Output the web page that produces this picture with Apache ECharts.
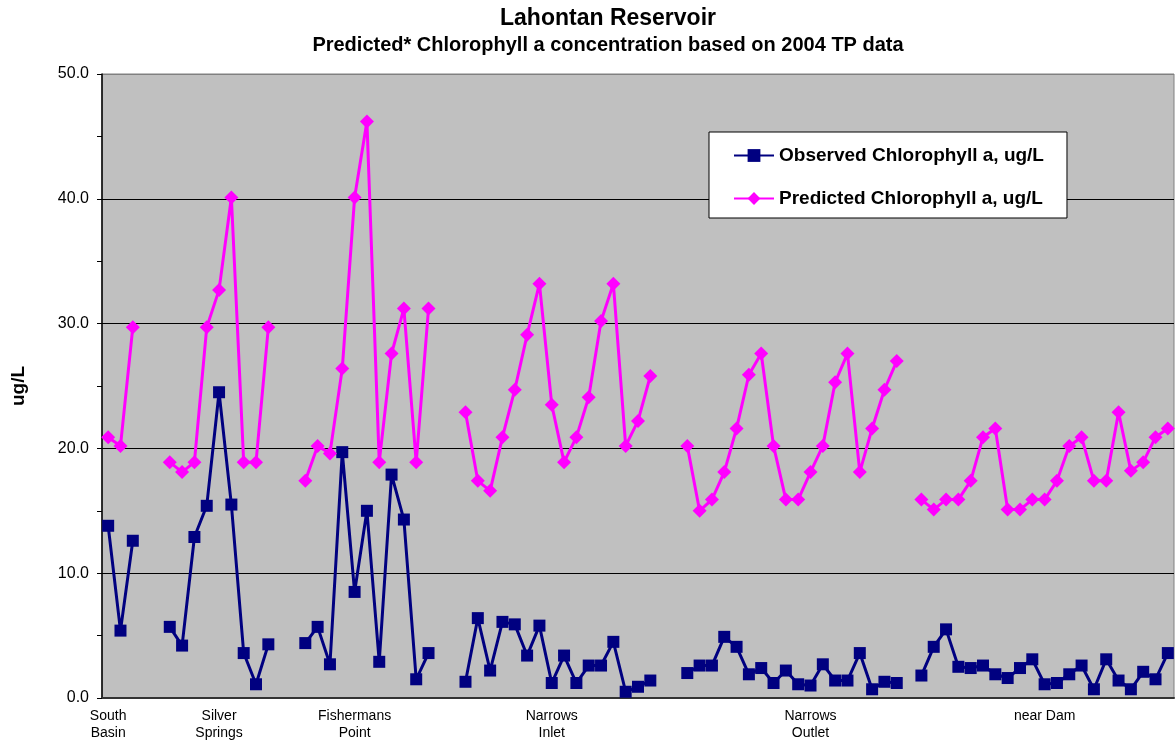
<!DOCTYPE html>
<html>
<head>
<meta charset="utf-8">
<title>Lahontan Reservoir</title>
<script src="https://cdn.jsdelivr.net/npm/echarts@6.0.0/dist/echarts.min.js"></script>
<style>
  html, body { margin: 0; padding: 0; background: #fff; }
  #chart { width: 1175px; height: 742px; }
</style>
</head>
<body>
<div id="chart"></div>
<script>
// sites along the reservoir, left to right
const siteNames = ['South\nBasin', 'Silver\nSprings', 'Fishermans\nPoint', 'Narrows\nInlet', 'Narrows\nOutlet', 'near Dam']
// empty slots after each site, and which sample carries the site label
const gapAfter = [2, 2, 2, 2, 1]
const labelAt = [0, 4, 4, 7, 10, 10]

const southObs = [13.8, 5.4, 12.6]
const southPred = [20.9, 20.2, 29.7]
const silverObs = [5.7, 4.2, 12.9, 15.4, 24.5, 15.5, 3.6, 1.1, 4.3]
const silverPred = [18.9, 18.1, 18.9, 29.7, 32.7, 40.1, 18.9, 18.9, 29.7]
const fishObs = [4.4, 5.7, 2.7, 19.7, 8.5, 15.0, 2.9, 17.9, 14.3, 1.5, 3.6]
const fishPred = [17.4, 20.2, 19.6, 26.4, 40.1, 46.2, 18.9, 27.6, 31.2, 18.9, 31.2]
const inletObs = [1.3, 6.4, 2.2, 6.1, 5.9, 3.4, 5.8, 1.2, 3.4, 1.2, 2.6, 2.6, 4.5, 0.5, 0.9, 1.4]
const inletPred = [22.9, 17.4, 16.6, 20.9, 24.7, 29.1, 33.2, 23.5, 18.9, 20.9, 24.1, 30.2, 33.2, 20.2, 22.2, 25.8]
const outletObs = [2.0, 2.6, 2.6, 4.9, 4.1, 1.9, 2.4, 1.2, 2.2, 1.1, 1.0, 2.7, 1.4, 1.4, 3.6, 0.7, 1.3, 1.2]
const outletPred = [20.2, 15.0, 15.9, 18.1, 21.6, 25.9, 27.6, 20.2, 15.9, 15.9, 18.1, 20.2, 25.3, 27.6, 18.1, 21.6, 24.7, 27.0]
const damObs = [1.8, 4.1, 5.5, 2.5, 2.4, 2.6, 1.9, 1.6, 2.4, 3.1, 1.1, 1.2, 1.9, 2.6, 0.7, 3.1, 1.4, 0.7, 2.1, 1.5, 3.6]
const damPred = [15.9, 15.1, 15.9, 15.9, 17.4, 20.9, 21.6, 15.1, 15.1, 15.9, 15.9, 17.4, 20.2, 20.9, 17.4, 17.4, 22.9, 18.2, 18.9, 20.9, 21.6]

const yTicks = ['0.0', '10.0', '20.0', '30.0', '40.0', '50.0']

const obsBySite = [southObs, silverObs, fishObs, inletObs, outletObs, damObs]
const predBySite = [southPred, silverPred, fishPred, inletPred, outletPred, damPred]

// flatten into one category axis, leaving null slots between sites
let observed = []
let predicted = []
let slotLabels = []
obsBySite.forEach((obs, i) => {
  obs.forEach((v, j) => {
    observed.push(v)
    predicted.push(predBySite[i][j])
    slotLabels.push(j === labelAt[i] ? siteNames[i] : '')
  })
  if (i < gapAfter.length) {
    for (let k = 0; k < gapAfter[i]; k++) {
      observed.push(null)
      predicted.push(null)
      slotLabels.push('')
    }
  }
})
const slots = slotLabels.map((s, i) => String(i))

const font = 'Liberation Sans, Arial, Helvetica, sans-serif'

const chart = echarts.init(document.getElementById('chart'))
chart.setOption({
  animation: false,
  title: [{
    text: 'Lahontan Reservoir',
    left: 608,
    top: 7,
    padding: 0,
    textAlign: 'center',
    textStyle: { fontFamily: font, fontSize: 23, fontWeight: 'bold', color: '#000' }
  }, {
    text: 'Predicted* Chlorophyll a concentration based on 2004 TP data',
    left: 608,
    top: 35,
    padding: 0,
    textAlign: 'center',
    textStyle: { fontFamily: font, fontSize: 20, fontWeight: 'bold', color: '#000' }
  }],
  legend: {
    orient: 'vertical',
    left: 709,
    top: 132,
    padding: [14, 23, 10, 24],
    itemGap: 24,
    itemWidth: 40,
    itemHeight: 16,
    backgroundColor: '#fff',
    borderColor: '#000',
    borderWidth: 1,
    selectedMode: false,
    textStyle: { fontFamily: font, fontSize: 19, fontWeight: 'bold', color: '#000', lineHeight: 16 },
    data: ['Observed Chlorophyll a, ug/L', 'Predicted Chlorophyll a, ug/L']
  },
  grid: {
    left: 102,
    right: 1,
    top: 74,
    bottom: 44,
    show: true,
    backgroundColor: '#C0C0C0',
    borderColor: '#808080',
    borderWidth: 1
  },
  xAxis: {
    type: 'category',
    data: slots,
    boundaryGap: true,
    axisLine: { lineStyle: { color: '#333', width: 2 } },
    axisTick: { show: false },
    axisLabel: {
      interval: 0,
      margin: 10,
      fontFamily: font,
      fontSize: 14,
      lineHeight: 17,
      color: '#000',
      formatter: (v, i) => slotLabels[i]
    },
    splitLine: { show: false }
  },
  yAxis: {
    type: 'value',
    min: 0,
    max: 50,
    interval: 10,
    name: 'ug/L',
    nameLocation: 'middle',
    nameGap: 74,
    nameTextStyle: { fontFamily: font, fontSize: 19, fontWeight: 'bold', color: '#000' },
    axisLine: { show: true, lineStyle: { color: '#000', width: 1.5 } },
    axisTick: { show: true, length: 5, lineStyle: { color: '#000' } },
    minorTick: { show: true, splitNumber: 2, length: 5, lineStyle: { color: '#000' } },
    axisLabel: {
      margin: 13,
      fontFamily: font,
      fontSize: 16,
      color: '#000',
      formatter: (v, i) => yTicks[i]
    },
    splitLine: {
      show: true,
      lineStyle: { color: ['#000', '#000', '#000', '#000', '#000', '#808080'], width: 1 }
    }
  },
  series: [{
    name: 'Observed Chlorophyll a, ug/L',
    type: 'line',
    data: observed,
    connectNulls: false,
    symbol: 'rect',
    symbolSize: 12,
    lineStyle: { color: '#000080', width: 3 },
    itemStyle: { color: '#000080' }
  }, {
    name: 'Predicted Chlorophyll a, ug/L',
    type: 'line',
    data: predicted,
    connectNulls: false,
    symbol: 'diamond',
    symbolSize: 14,
    lineStyle: { color: '#FF00FF', width: 3 },
    itemStyle: { color: '#FF00FF' }
  }]
})
</script>
</body>
</html>
